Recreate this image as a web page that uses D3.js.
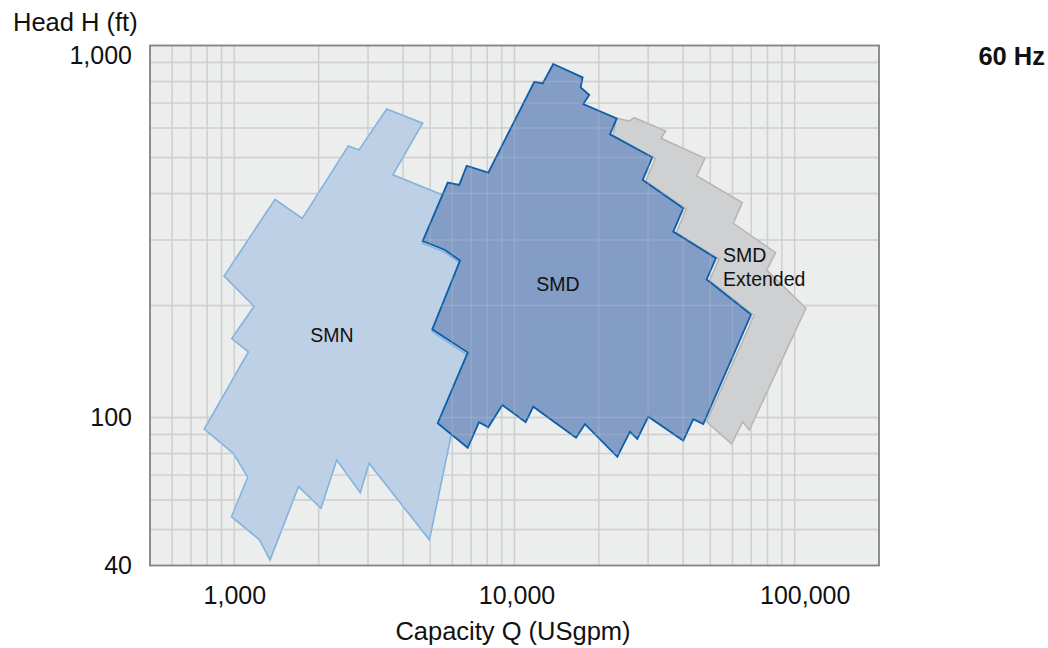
<!DOCTYPE html>
<html>
<head>
<meta charset="utf-8">
<script src="https://cdn.jsdelivr.net/npm/d3@7"></script>
<style>
  body { margin: 0; background: #fff; }
  text { font-family: "Liberation Sans", Arial, Helvetica, sans-serif; fill: #111; }
</style>
</head>
<body>
<div id="chart"></div>
<script>
var width = 1048;
var height = 648;

// ======= data (capacity Q in USgpm, head H in ft) =======

var smnQ = [3500, 4700, 3680, 5650, 4700, 5650, 6390, 5090, 6810, 4970, 3025, 2816, 2320, 2039, 1695,
            1341, 1230, 977, 1116, 992, 781, 1122, 979, 1176, 919, 1397, 1748, 2552, 2786];
var smnH = [675, 618, 449, 394, 294, 278, 260, 170, 147, 46.9, 75.3, 62.8, 76.9, 57.0, 65.2,
            41.4, 46.9, 54.1, 69.1, 80.1, 93.1, 150, 163, 199, 240, 386, 343, 537, 524];

var smdQ = [13750, 17500, 17230, 18490, 17600, 23160, 21920, 31020, 28680, 40030, 36870, 52370, 48520, 69860,
            47180, 43460, 40030, 30030, 27440, 25840, 23280, 17850, 16580, 11670, 10960, 9047, 8063, 7469,
            6808, 5319, 6808, 5087, 6390, 5650, 4703, 5776, 6353, 6751, 8063, 11770, 12610];
var smdH = [892, 821, 772, 736, 696, 637, 577, 500.6, 435, 365, 316, 268, 235, 189,
            96, 99, 86.6, 100.5, 87.5, 91.6, 78.4, 96, 88.2, 106.9, 97.1, 108, 94.1, 97.1,
            82.9, 96.5, 149.4, 172.6, 264, 282, 298, 428, 422, 475, 455, 799, 791];

var extQ = [23160, 25690, 26770, 34640, 33330, 47850, 44690, 65010, 60390, 85540, 79430, 109700,
            68870, 65210, 59600, 48520, 71580, 49720, 53680, 37790, 41030, 29390, 31810, 22470];
var extH = [637, 626.6, 639.5, 589, 563, 497.5, 446, 378, 332.7, 277.3, 249, 196.6,
            92.5, 97.4, 84.9, 97.4, 188, 233.5, 266.8, 314, 363.5, 432.4, 497, 573];

var labelLines = [["SMN"], ["SMD"], ["SMD", "Extended"]];
var labelQ = [2230, 14300, 55480];
var labelH = [160, 219, 261];

var xTicks = [1000, 10000, 100000];
var yTicks = [40, 100, 1000];

// ======= scales =======

var x = d3.scaleLog().domain([500, 200000]).range([150, 879]);
var y = d3.scaleLog().domain([40, 1000]).range([565.5, 45.5]);

var svg = d3.select("#chart")
  .append("svg")
    .attr("width", width)
    .attr("height", height);

svg.append("rect")
    .attr("x", x.range()[0])
    .attr("y", y.range()[1])
    .attr("width", x.range()[1] - x.range()[0])
    .attr("height", y.range()[0] - y.range()[1])
    .style("fill", "#eceded");

var xGrid = x.ticks().filter(function(d){ return d > 500 && d < 200000; });
var yGrid = y.ticks().filter(function(d){ return d > 40 && d < 1000; });

function grid(g, color, opacity){
    g.selectAll(".vgrid").data(xGrid)
      .enter().append("line")
        .attr("x1", function(d){ return x(d); })
        .attr("x2", function(d){ return x(d); })
        .attr("y1", y.range()[1])
        .attr("y2", y.range()[0]);
    g.selectAll(".hgrid").data(yGrid)
      .enter().append("line")
        .attr("x1", x.range()[0])
        .attr("x2", x.range()[1])
        .attr("y1", function(d){ return y(d); })
        .attr("y2", function(d){ return y(d); });
    g.selectAll("line")
        .style("stroke", color)
        .style("stroke-width", 1.4)
        .style("opacity", opacity);
}

grid(svg.append("g").attr("class", "grid"), "#cfcfcf", 1);

// ======= areas =======

var line = d3.line()
    .x(function(d){ return x(d[0]); })
    .y(function(d){ return y(d[1]); });

function area(qs, hs, fill, stroke, sw){
    svg.append("path")
        .attr("d", line(d3.zip(qs, hs)) + "Z")
        .style("fill", fill)
        .style("stroke", stroke)
        .style("stroke-width", sw)
        .style("stroke-linejoin", "miter");
}

area(smnQ, smnH, "#bdd0e6", "#82b3de", 1.6);
area(extQ, extH, "#cfd0d2", "#b6b6b6", 1.6);
area(smdQ, smdH, "#839dc6", "#0b5ea8", 1.8);

// faint grid showing through the areas
grid(svg.append("g").attr("class", "gridTop"), "#d1d1d1", 0.22);

// frame
svg.append("rect")
    .attr("x", x.range()[0])
    .attr("y", y.range()[1])
    .attr("width", x.range()[1] - x.range()[0])
    .attr("height", y.range()[0] - y.range()[1])
    .style("fill", "none")
    .style("stroke", "#828282")
    .style("stroke-width", 1.8);

// ======= axes =======

var fmt = d3.format(",");

var xAxis = svg.append("g")
    .attr("transform", "translate(0," + y.range()[0] + ")")
    .call(d3.axisBottom(x).tickValues(xTicks).tickFormat(fmt).tickSize(0).tickPadding(21));
xAxis.select(".domain").remove();
xAxis.selectAll("text")
    .style("font-size", "25px")
    .attr("dx", function(d){ return d === 100000 ? 10 : (d === 10000 ? 2 : 0); });

var yAxis = svg.append("g")
    .attr("transform", "translate(" + x.range()[0] + ",0)")
    .call(d3.axisLeft(y).tickValues(yTicks).tickFormat(fmt).tickSize(0).tickPadding(18));
yAxis.select(".domain").remove();
yAxis.selectAll("text")
    .style("font-size", "25px")
    .attr("dy", function(d){ return d === 1000 ? "0.72em" : "0.32em"; });

svg.append("text")
    .attr("x", 13)
    .attr("y", 31)
    .style("font-size", "25.5px")
    .text("Head H (ft)");

svg.append("text")
    .attr("x", 513)
    .attr("y", 640)
    .attr("text-anchor", "middle")
    .style("font-size", "25.5px")
    .text("Capacity Q (USgpm)");

svg.append("text")
    .attr("x", 1045)
    .attr("y", 65)
    .attr("text-anchor", "end")
    .style("font-size", "25.5px")
    .style("font-weight", "bold")
    .text("60 Hz");

// ======= area labels =======

labelLines.forEach(function(lines, i){
    var t = svg.append("text")
        .attr("x", x(labelQ[i]))
        .attr("y", y(labelH[i]))
        .attr("text-anchor", lines.length > 1 ? "start" : "middle")
        .style("font-size", "19.5px");
    lines.forEach(function(s, j){
        t.append("tspan")
            .attr("x", x(labelQ[i]))
            .attr("dy", j === 0 ? 0 : 24)
            .text(s);
    });
});
</script>
</body>
</html>
